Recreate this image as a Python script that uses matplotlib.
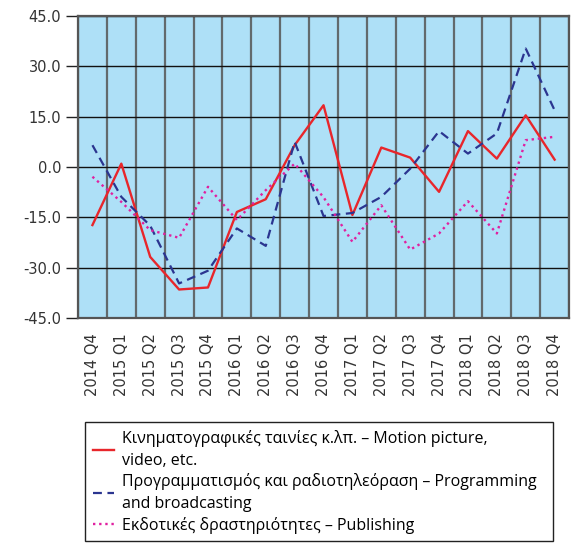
import matplotlib
matplotlib.use("Agg")
import matplotlib.pyplot as plt
import numpy as np

QUARTERS = ["2014 Q4", "2015 Q1", "2015 Q2", "2015 Q3", "2015 Q4",
            "2016 Q1", "2016 Q2", "2016 Q3", "2016 Q4",
            "2017 Q1", "2017 Q2", "2017 Q3", "2017 Q4",
            "2018 Q1", "2018 Q2", "2018 Q3", "2018 Q4"]

motion = [-17.3, 1.0, -26.8, -36.5, -35.9, -13.4, -9.6, 6.5, 18.4,
          -14.3, 5.8, 2.8, -7.4, 10.7, 2.5, 15.4, 2.2]
programming = [6.5, -8.9, -17.5, -34.7, -30.9, -18.3, -23.5, 7.5, -14.6,
               -13.7, -8.9, -0.5, 10.7, 4.0, 10.0, 35.3, 16.9]
publishing = [-2.9, -10.4, -18.8, -21.1, -5.9, -15.8, -6.9, 1.0, -9.0,
              -22.3, -11.4, -24.6, -19.8, -10.2, -19.8, 8.0, 9.0]

LABELS = [
    "Κινηματογραφικές ταινίες κ.λπ. – Motion picture,\nvideo, etc.",
    "Προγραμματισμός και ραδιοτηλεόραση – Programming\nand broadcasting",
    "Εκδοτικές δραστηριότητες – Publishing",
]

YTICKS = [-45, -30, -15, 0, 15, 30, 45]

BG = "#aee0f7"
RED = "#e8262b"
NAVY = "#2b3590"
PINK = "#e020a0"

plt.rcParams["font.family"] = ["DejaVu Sans"]

fig = plt.figure(figsize=(5.71, 5.44), dpi=100)
ax = fig.add_axes([0.1366, 0.4154, 0.8600, 0.5552])
ax.set_facecolor(BG)

x = np.arange(len(QUARTERS))
ax.plot(x, motion, color=RED, lw=1.7, label=LABELS[0], zorder=3)
ax.plot(x, programming, color=NAVY, lw=1.6, ls=(0, (4, 2.5)), label=LABELS[1], zorder=3)
ax.plot(x, publishing, color=PINK, lw=1.7, ls=(0, (1, 1.6)), label=LABELS[2], zorder=3)

ax.set_xlim(-0.5, len(QUARTERS) - 0.5)
ax.set_ylim(-45, 45)
ax.set_yticks(YTICKS)
ax.set_yticklabels([f"{v:.1f}" for v in YTICKS], fontsize=10.5, color="#333")
ax.set_xticks(x)
ax.set_xticklabels(QUARTERS, rotation=90, fontsize=10.5, color="#333")
ax.tick_params(axis="x", length=0, pad=11)
ax.tick_params(axis="y", length=9, width=1, color="#222", pad=3)

# category boundary lines and value grid
for b in np.arange(-0.5, len(QUARTERS), 1.0):
    ax.axvline(b, color="#555", lw=1.6, alpha=0.85, zorder=1)
for v in YTICKS:
    ax.axhline(v, color="#111", lw=1.0, zorder=1)

for s in ax.spines.values():
    s.set_color("#555")
    s.set_linewidth(1.6)

leg = fig.legend(loc="upper left", bbox_to_anchor=(0.149, 0.224, 0.819, 0.0),
                 mode="expand", borderaxespad=0, frameon=True, fancybox=False,
                 edgecolor="#222", framealpha=1, handlelength=1.3,
                 handletextpad=0.5, labelspacing=0.3, borderpad=0.5,
                 prop={"family": ["Open Sans", "DejaVu Sans"], "size": 11.5})
for t in leg.get_texts():
    t.set_linespacing(1.45)

fig.savefig("out.png", dpi=100)
